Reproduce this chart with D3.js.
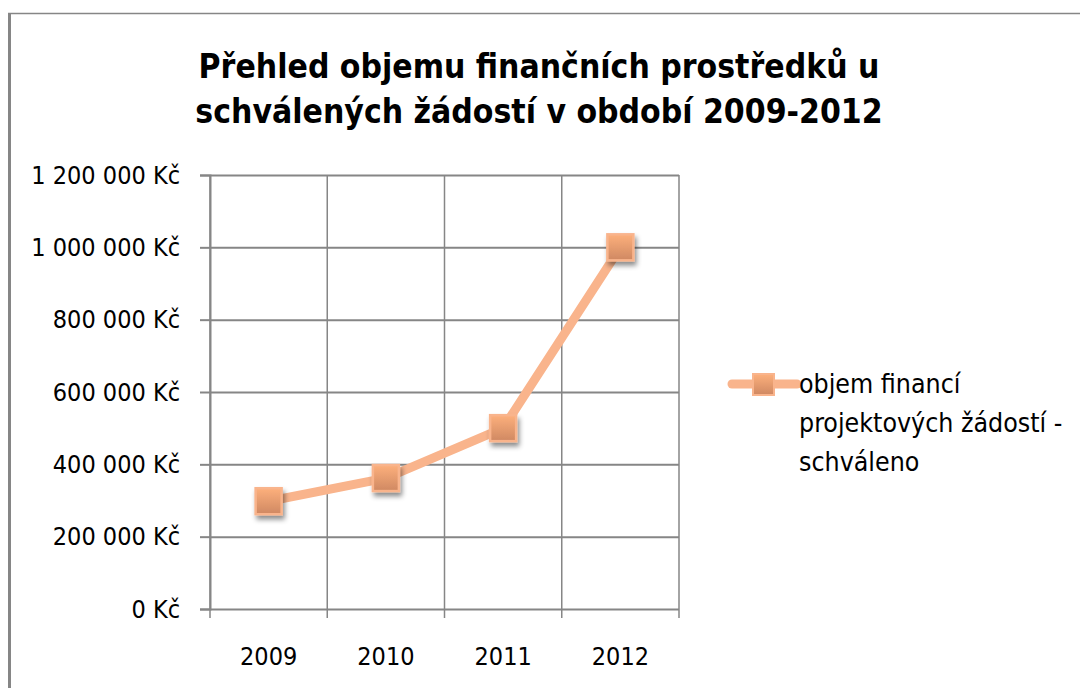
<!DOCTYPE html>
<html>
<head>
<meta charset="utf-8">
<script src="https://cdn.jsdelivr.net/npm/d3@7"></script>
<style>
  body { margin: 0; background: #fff; }
  svg { display: block; }
  text { font-family: "DejaVu Sans Condensed", "DejaVu Sans", sans-serif; }
</style>
</head>
<body>
<script>
// chart data
var years = ["2009", "2010", "2011", "2012"];
var values = [298000, 362000, 500000, 1000000];
var yTicks = [0, 200000, 400000, 600000, 800000, 1000000, 1200000];
var titleLines = ["Přehled objemu finančních prostředků u", "schválených žádostí v období 2009-2012"];
var legendLines = ["objem financí", "projektových žádostí -", "schváleno"];

var W = 1080, H = 688;
var pLeft = 210, pRight = 679, pTop = 175, pBottom = 609;
var FONT = "DejaVu Sans Condensed";

var svg = d3.select("body").append("svg")
  .attr("width", W)
  .attr("height", H);

var defs = svg.append("defs");
var grad = defs.append("linearGradient")
  .attr("id", "mk").attr("x1", 0).attr("y1", 0).attr("x2", 0).attr("y2", 1);
grad.append("stop").attr("offset", "0%").attr("stop-color", "#fdb07c");
grad.append("stop").attr("offset", "100%").attr("stop-color", "#cf8862");
var shadow = defs.append("filter").attr("id", "sh")
  .attr("x", "-50%").attr("y", "-50%").attr("width", "200%").attr("height", "200%");
shadow.append("feDropShadow")
  .attr("dx", 2).attr("dy", 4).attr("stdDeviation", 2.5)
  .attr("flood-color", "#000").attr("flood-opacity", 0.45);

// chart frame
svg.append("line").attr("x1", 9.5).attr("x2", 9.5).attr("y1", 13).attr("y2", H)
  .attr("stroke", "#868686").attr("stroke-width", 3);
svg.append("line").attr("x1", 8).attr("x2", W).attr("y1", 13.5).attr("y2", 13.5)
  .attr("stroke", "#868686").attr("stroke-width", 1.5);

// title
svg.append("g").selectAll("text").data(titleLines).enter().append("text")
  .attr("x", 539)
  .attr("y", function(d, i){ return 78 + i * 45; })
  .attr("text-anchor", "middle")
  .attr("font-size", 33.4)
  .attr("font-weight", "bold")
  .attr("fill", "#000")
  .text(function(d){ return d; });

var x = d3.scaleBand().domain(years).range([pLeft, pRight]);
var y = d3.scaleLinear().domain([0, 1200000]).range([pBottom, pTop]);

var loc = d3.formatLocale({decimal: ",", thousands: " ", grouping: [3], currency: ["", " Kč"]});
var fmt = function(d){ return loc.format(",")(d) + " Kč"; };

// horizontal gridlines
svg.append("g")
  .attr("transform", "translate(" + pLeft + ",0)")
  .call(d3.axisLeft(y).tickValues(yTicks).tickSize(-(pRight - pLeft)).tickFormat(""))
  .call(function(g){
    g.select(".domain").remove();
    g.selectAll("line").attr("stroke", "#868686").attr("stroke-width", 2);
  });

// vertical gridlines at category borders
var xEdges = years.map(function(d){ return x(d); }).concat([pRight]);
svg.append("g").selectAll("line").data(xEdges).enter().append("line")
  .attr("x1", function(d){ return d; }).attr("x2", function(d){ return d; })
  .attr("y1", pTop).attr("y2", pBottom + 9)
  .attr("stroke", "#868686").attr("stroke-width", 1.5);

// y axis
svg.append("g")
  .attr("transform", "translate(" + pLeft + ",0)")
  .call(d3.axisLeft(y).tickValues(yTicks).tickSize(10).tickPadding(20).tickFormat(fmt))
  .call(function(g){
    g.attr("font-family", FONT);
    g.select(".domain").attr("stroke", "#868686").attr("stroke-width", 2);
    g.selectAll(".tick line").attr("stroke", "#868686").attr("stroke-width", 2);
    g.selectAll("text").attr("font-size", 25).attr("fill", "#000");
  });

// x axis labels
svg.append("g")
  .attr("transform", "translate(0," + pBottom + ")")
  .call(d3.axisBottom(x).tickSize(0).tickPadding(38))
  .call(function(g){
    g.attr("font-family", FONT);
    g.select(".domain").remove();
    g.selectAll("text").attr("font-size", 25).attr("fill", "#000");
  });

// series line
var pts = years.map(function(d, i){ return [x(d) + x.bandwidth() / 2, y(values[i])]; });
svg.append("path")
  .attr("d", d3.line()(pts))
  .attr("fill", "none")
  .attr("stroke", "#f9b48c")
  .attr("stroke-width", 9)
  .attr("stroke-linejoin", "round");

var ms = 26;
svg.append("g").selectAll("rect").data(pts).enter().append("rect")
  .attr("x", function(d){ return d[0] - ms / 2; })
  .attr("y", function(d){ return d[1] - ms / 2; })
  .attr("width", ms).attr("height", ms)
  .attr("fill", "url(#mk)")
  .attr("stroke", "#f9b48c").attr("stroke-width", 2.5)
  .attr("filter", "url(#sh)");

// legend
var lg = svg.append("g");
lg.append("line")
  .attr("x1", 732).attr("x2", 797).attr("y1", 384).attr("y2", 384)
  .attr("stroke", "#f9b48c").attr("stroke-width", 9).attr("stroke-linecap", "round");
lg.append("rect")
  .attr("x", 753).attr("y", 374).attr("width", 21).attr("height", 21)
  .attr("fill", "url(#mk)").attr("stroke", "#f9b48c").attr("stroke-width", 2);
lg.selectAll("text").data(legendLines).enter().append("text")
  .attr("x", 799)
  .attr("y", function(d, i){ return 393 + i * 39; })
  .attr("font-size", 26.5)
  .attr("fill", "#000")
  .text(function(d){ return d; });
</script>
</body>
</html>
